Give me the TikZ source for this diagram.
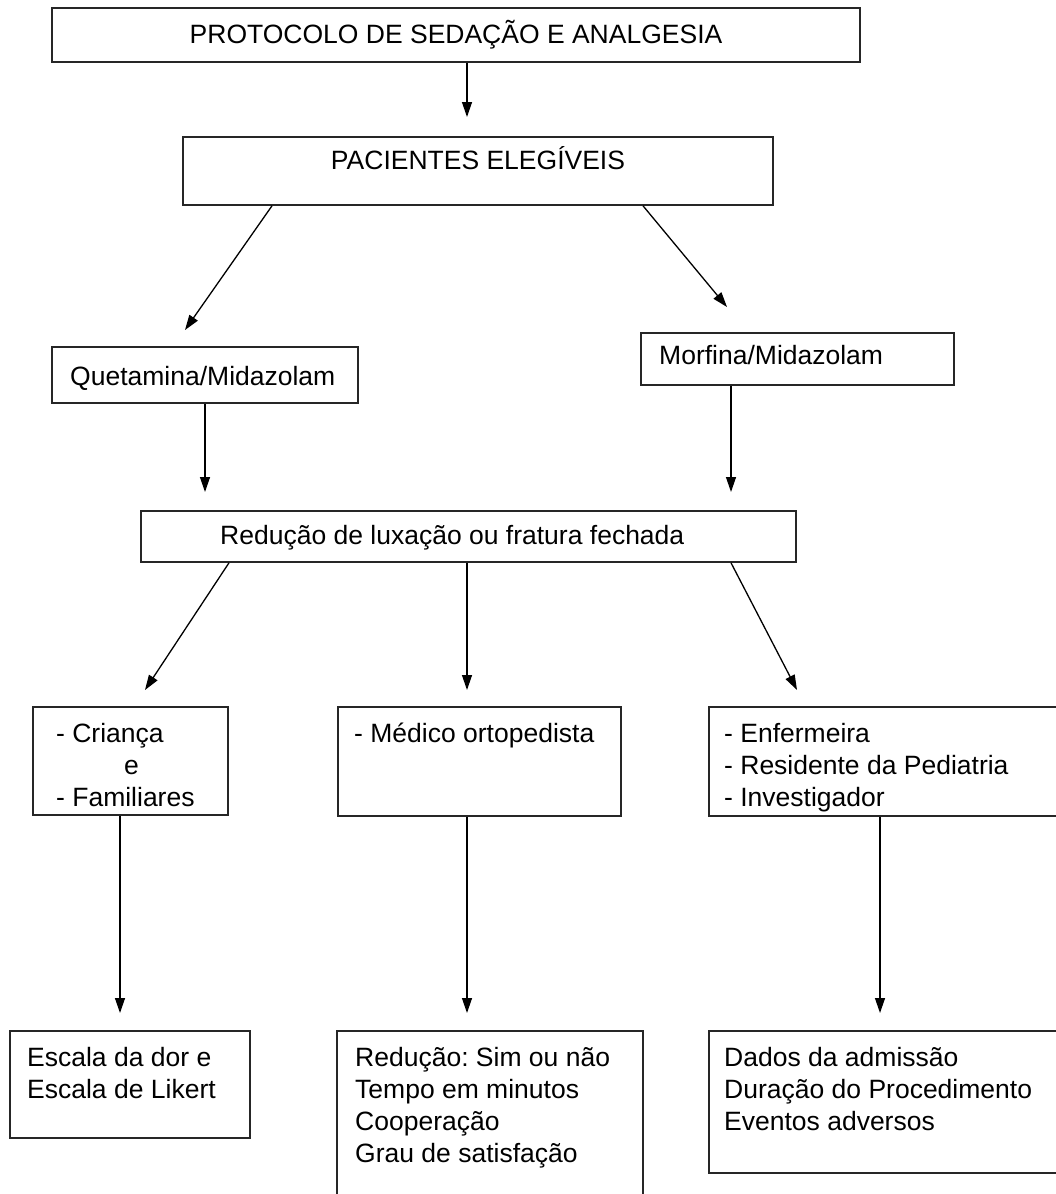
\documentclass[tikz,border=0pt]{standalone}
\usepackage{fontspec}
\setmainfont{Liberation Sans}
\usetikzlibrary{arrows.meta}
\frenchspacing
\begin{document}
\begin{tikzpicture}[x=1pt,y=-1pt,
  box/.style={draw=black!85,line width=1.6pt,inner sep=0pt,rectangle},
  txt/.style={inner sep=0pt,anchor=north west,align=left,font=\fontsize{26.5}{32}\selectfont},
  ctxt/.style={inner sep=0pt,anchor=base,font=\fontsize{26.5}{32}\selectfont},
  arr/.style={line width=1.3pt,-{Triangle[length=15pt,width=10pt]}}]
\useasboundingbox (0,0) rectangle (1055,1194);
\fill[white] (0,0) rectangle (1055,1194);
% boxes
\node[box,minimum width=808pt,minimum height=54pt] (prot) at (456,35) {};
\node[box,minimum width=590pt,minimum height=68pt] (pac) at (478,171) {};
\node[box,minimum width=306pt,minimum height=56pt] (quet) at (205,375) {};
\node[box,minimum width=313pt,minimum height=52pt] (morf) at (797.5,359) {};
\node[box,minimum width=655pt,minimum height=51pt] (red) at (468.5,536.5) {};
\node[box,minimum width=195pt,minimum height=108pt] (cri) at (130.5,761) {};
\node[box,minimum width=283pt,minimum height=109pt] (med) at (479.5,761.5) {};
\node[box,minimum width=366pt,minimum height=109pt] (enf) at (892,761.5) {};
\node[box,minimum width=240pt,minimum height=107pt] (esc) at (130,1084.5) {};
\node[box,minimum width=306pt,minimum height=179pt] (sim) at (490,1120.5) {};
\node[box,minimum width=366pt,minimum height=142pt] (dad) at (892,1102) {};
% texts
\node[ctxt] (tprot) at (456,43) {PROTOCOLO DE SEDAÇÃO E ANALGESIA};
\node[ctxt] (tpac) at (478,169) {PACIENTES ELEGÍVEIS};
\node[txt] (tquet) at (70,362.6) {\strut Quetamina/Midazolam};
\node[txt] (tmorf) at (659,341.6) {\strut Morfina/Midazolam};
\node[txt] (tred) at (220,521.6) {\strut Redução de luxação ou fratura fechada};
\node[txt] (tcri) at (56,719.6) {\strut - Criança\\\hspace{68pt}e\\- Familiares};
\node[txt] (tmed) at (354,719.6) {\strut - Médico ortopedista};
\node[txt] (tenf) at (724,719.6) {\strut - Enfermeira\\- Residente da Pediatria\\- Investigador};
\node[txt] (tesc) at (27,1043.6) {\strut Escala da dor e\\Escala de Likert};
\node[txt] (tsim) at (355,1043.6) {\strut Redução: Sim ou não\\Tempo em minutos\\Cooperação\\Grau de satisfação};
\node[txt] (tdad) at (724,1043.6) {\strut Dados da admissão\\Duração do Procedimento\\Eventos adversos};
% arrow ends
\coordinate (e1) at (467,117);
\coordinate (s2) at (272,205); \coordinate (e2) at (185,330);
\coordinate (s3) at (643,205); \coordinate (e3) at (727,307);
\coordinate (e4) at (205,492);
\coordinate (e5) at (731,492);
\coordinate (s6) at (229,562); \coordinate (e6) at (145,690);
\coordinate (e7) at (467,690);
\coordinate (s8) at (731,562); \coordinate (e8) at (797,690);
\coordinate (e9) at (120,1013);
\coordinate (e10) at (467,1013);
\coordinate (e11) at (880,1013);
% connectors
\draw[arr] (prot.south -| e1) -- (e1);
\draw[arr] (pac.south -| s2) -- (e2);
\draw[arr] (pac.south -| s3) -- (e3);
\draw[arr] (quet.south -| e4) -- (e4);
\draw[arr] (morf.south -| e5) -- (e5);
\draw[arr] (red.south -| s6) -- (e6);
\draw[arr] (red.south -| e7) -- (e7);
\draw[arr] (red.south -| s8) -- (e8);
\draw[arr] (cri.south -| e9) -- (e9);
\draw[arr] (med.south -| e10) -- (e10);
\draw[arr] (enf.south -| e11) -- (e11);
\end{tikzpicture}
\end{document}
